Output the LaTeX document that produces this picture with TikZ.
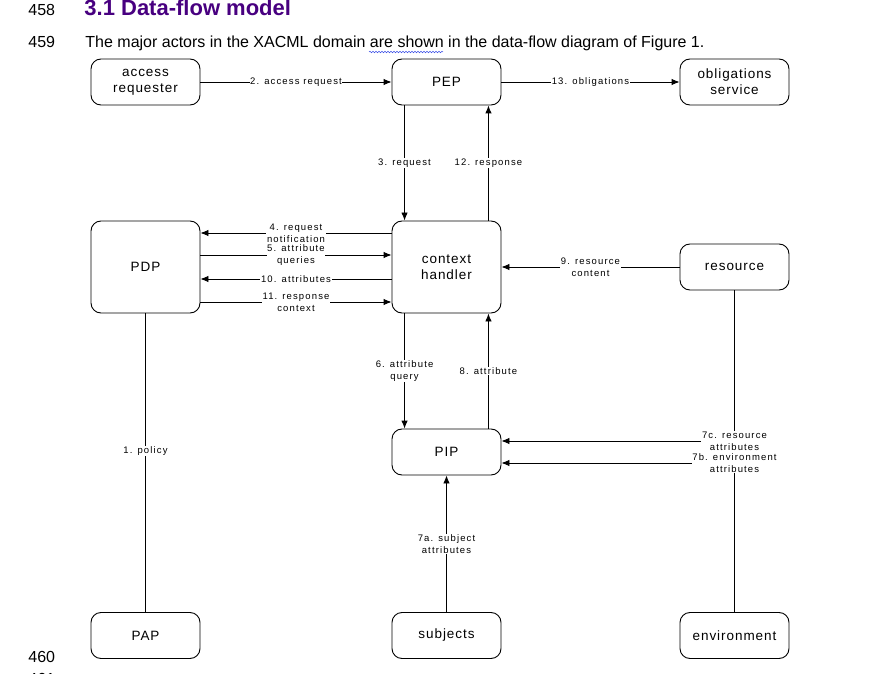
\documentclass[tikz,border=0pt]{standalone}
\usepackage{fontspec}
\setmainfont{Liberation Sans}
\newfontfamily\lblfont[LetterSpace=12]{Liberation Sans}
\newfontfamily\boxfont[LetterSpace=7]{Liberation Sans}
\usepackage{tikz}
\usetikzlibrary{arrows.meta, positioning, calc, decorations.pathmorphing}
\definecolor{headpurple}{RGB}{72,0,128}
\definecolor{spellblue}{RGB}{60,80,230}

\begin{document}
\begin{tikzpicture}[
    x=1pt, y=-1pt,
    actor/.style={rectangle, draw, rounded corners=10pt, minimum width=109pt, minimum height=46pt, inner sep=1pt, align=center, font=\boxfont\fontsize{13.5}{16}\selectfont},
    lbl/.style={fill=white, inner sep=0.6pt, align=center, font=\lblfont\fontsize{9.5}{12}\selectfont},
    doc/.style={anchor=base west, inner sep=0pt, font=\fontsize{16}{19}\selectfont},
    arr/.style={-{Latex[length=8pt, width=6.5pt]}},
    line width=0.9pt
]
\useasboundingbox (0,0) rectangle (887,674);

\node[doc] (ln458) at (28,16) {458};
\node[doc, font=\bfseries\fontsize{22}{26}\selectfont, text=headpurple] (head) at (84,16) {3.1 Data-flow model};
\node[doc] (ln459) at (28,48) {459};
\node[doc] (intro) at (85,48) {The major actors in the XACML domain are shown in the data-flow diagram of Figure 1.};
\draw[spellblue, line width=0.5pt, decorate, decoration={snake, amplitude=0.8pt, segment length=3pt}] (369,52) -- (443,52);
\node[doc] (ln460) at (28,662) {460};
\node[doc] (ln461) at (28,684) {461};

\node[actor] (req) at (145.5,82) {access\\requester};
\node[actor] (pep) at (446.5,82) {PEP};
\node[actor] (obl) at (734.5,82) {obligations\\service};
\node[actor, minimum height=92pt] (pdp) at (145.5,267) {PDP};
\node[actor, minimum height=92pt] (ctx) at (446.5,267) {context\\handler};
\node[actor] (res) at (734.5,267) {resource};
\node[actor] (pip) at (446.5,452) {PIP};
\node[actor] (pap) at (145.5,635.5) {PAP};
\node[actor] (subj) at (446.5,635.5) {subjects};
\node[actor] (env) at (734.5,635.5) {environment};

\draw[arr] (req) -- node[lbl] {2. access request} (pep);
\draw[arr] (pep) -- node[lbl] {13. obligations} (obl);
\draw[arr] ([xshift=13pt]pep.south west) -- node[lbl] {3. request} ([xshift=13pt]ctx.north west);
\draw[arr] ([xshift=-13pt]ctx.north east) -- node[lbl] {12. response} ([xshift=-13pt]pep.south east);
\draw[arr] ([yshift=34pt]ctx.west) -- node[lbl] {4. request\\notification} ([yshift=34pt]pdp.east);
\draw[arr] ([yshift=12pt]pdp.east) -- node[lbl] {5. attribute\\queries} ([yshift=12pt]ctx.west);
\draw[arr] ([yshift=-12pt]ctx.west) -- node[lbl] {10. attributes} ([yshift=-12pt]pdp.east);
\draw[arr] ([yshift=-35pt]pdp.east) -- node[lbl] {11. response\\context} ([yshift=-35pt]ctx.west);
\draw[arr] (res) -- node[lbl] {9. resource\\content} (ctx);
\draw[arr] ([xshift=13pt]ctx.south west) -- node[lbl] {6. attribute\\query} ([xshift=13pt]pip.north west);
\draw[arr] ([xshift=-13pt]pip.north east) -- node[lbl] {8. attribute} ([xshift=-13pt]ctx.south east);
\draw[arr] (res) |- node[lbl] {7c. resource\\attributes} ([yshift=11pt]pip.east);
\draw[arr] (env) |- node[lbl] {7b. environment\\attributes} ([yshift=-11pt]pip.east);
\draw[arr] (subj) -- node[lbl] {7a. subject\\attributes} (pip);
\draw (pdp) -- node[lbl, pos=0.46] {1. policy} (pap);
\end{tikzpicture}
\end{document}
